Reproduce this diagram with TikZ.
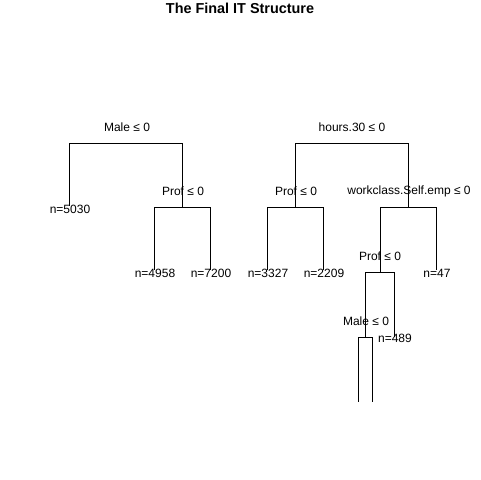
\documentclass[tikz,border=0pt]{standalone}
\usepackage{fontspec}
\setmainfont{Liberation Sans}
\begin{document}
\begin{tikzpicture}[x=0.75pt,y=-0.75pt,
  edge/.style={draw=black,line width=0.75pt},
  splitlab/.style={font=\fontsize{9}{10}\selectfont,inner sep=0pt,anchor=center},
  leaflab/.style={font=\fontsize{9}{10}\selectfont,inner sep=0pt,anchor=center},
  titlelab/.style={font=\fontsize{10.8}{12}\selectfont\bfseries,inner sep=0pt}]
\useasboundingbox (0,0) rectangle (480,480);
\fill[white] (0,0) rectangle (480,480);
\node[titlelab] (title) at (240,8) {The Final IT Structure};

% left tree: junction points
\coordinate (L0) at (126.5,143);
\coordinate (L1) at (70,206);
\coordinate (L2) at (183,207);
\coordinate (L21) at (155,270);
\coordinate (L22) at (211,270);

% right tree: junction points
\coordinate (R0) at (352.5,143);
\coordinate (R1) at (296,207);
\coordinate (R11) at (268,270);
\coordinate (R12) at (324,270);
\coordinate (R2) at (408.5,207);
\coordinate (R21) at (380.5,272);
\coordinate (R22) at (437,270);
\coordinate (R211) at (366,337);
\coordinate (R212) at (395,337);
\coordinate (R2111) at (359,402);
\coordinate (R2112) at (373,402);

% connectors
\draw[edge] (L0) -| (L1);
\draw[edge] (L0) -| (L2);
\draw[edge] (L2) -| (L21);
\draw[edge] (L2) -| (L22);
\draw[edge] (R0) -| (R1);
\draw[edge] (R0) -| (R2);
\draw[edge] (R1) -| (R11);
\draw[edge] (R1) -| (R12);
\draw[edge] (R2) -| (R21);
\draw[edge] (R2) -| (R22);
\draw[edge] (R21) -| (R211);
\draw[edge] (R21) -| (R212);
\draw[edge] (R211) -| (R2111);
\draw[edge] (R211) -| (R2112);

% split labels
\node[splitlab] (sL0) at (127,127) {Male ≤ 0};
\node[splitlab] (sL2) at (183,191) {Prof ≤ 0};
\node[splitlab] (sR0) at (352,127) {hours.30 ≤ 0};
\node[splitlab] (sR1) at (296,191) {Prof ≤ 0};
\node[splitlab] (sR2) at (409,191) {workclass.Self.emp ≤ 0};
\node[splitlab] (sR21) at (380,256) {Prof ≤ 0};
\node[splitlab] (sR211) at (366,321) {Male ≤ 0};

% leaf labels
\node[leaflab] (nL1) at (70,209) {n=5030};
\node[leaflab] (nL21) at (155,273) {n=4958};
\node[leaflab] (nL22) at (211,273) {n=7200};
\node[leaflab] (nR11) at (268,273) {n=3327};
\node[leaflab] (nR12) at (324,273) {n=2209};
\node[leaflab] (nR22) at (437,273) {n=47};
\node[leaflab] (nR212) at (395,338) {n=489};
\end{tikzpicture}
\end{document}
